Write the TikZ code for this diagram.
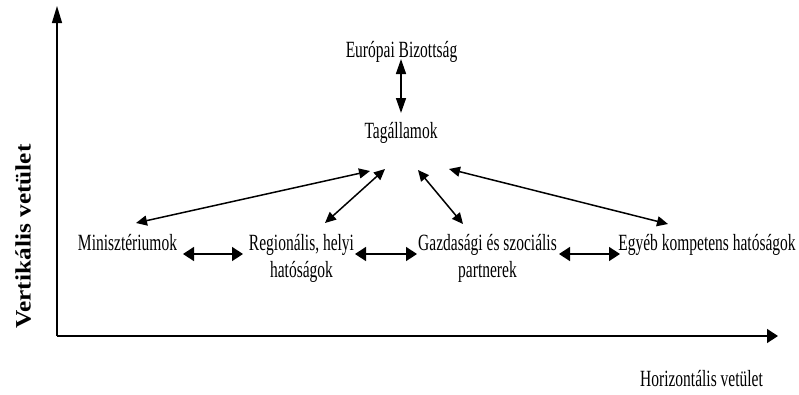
\documentclass[tikz,border=0pt]{standalone}
\usepackage{fontspec}
\setmainfont{Liberation Serif}
\usetikzlibrary{arrows.meta}
\newcommand{\vstretch}[1]{\scalebox{1}[1.5]{#1}}
\tikzset{
  lbl/.style={inner sep=0pt, anchor=base, font=\fontsize{15.5}{18}\selectfont},
  rel/.style={line width=1.5pt, {Triangle[length=11pt,width=10pt]}-{Triangle[length=11pt,width=10pt]}},
  relh/.style={line width=1.5pt, {Triangle[length=11pt,width=14pt]}-{Triangle[length=11pt,width=14pt]}},
  relv/.style={line width=1.5pt, {Triangle[length=15pt,width=10pt]}-{Triangle[length=15pt,width=10pt]}},
  axis/.style={line width=1.3pt}
}
\begin{document}
\begin{tikzpicture}[x=1pt,y=-1pt]
\useasboundingbox (0,0) rectangle (799,394);
% axes
\coordinate (O) at (57,336);
\coordinate (Ytip) at (57,6);
\coordinate (Xtip) at (778,336);
\draw[axis,-{Triangle[length=17pt,width=10pt]}] (O) -- (Ytip);
\draw[axis,-{Triangle[length=11pt,width=14pt]}] (O) -- (Xtip);
% labels
\node[lbl] (eb) at (401.5,57.5) {\vstretch{Európai Bizottság}};
\node[lbl] (tag) at (401,138) {\vstretch{Tagállamok}};
\node[lbl] (min) at (127.5,250) {\vstretch{Minisztériumok}};
\node[lbl] (reg) at (301.5,250) {\vstretch{\begin{tabular}[t]{@{}c@{}}Regionális, helyi\\hatóságok\end{tabular}}};
\node[lbl] (gaz) at (487.5,250) {\vstretch{\begin{tabular}[t]{@{}c@{}}Gazdasági és szociális\\partnerek\end{tabular}}};
\node[lbl] (egy) at (707,250) {\vstretch{Egyéb kompetens hatóságok}};
\node[lbl] (hor) at (701.5,386) {\vstretch{Horizontális vetület}};
\node[inner sep=0pt, anchor=base, rotate=90, font=\fontsize{22}{24}\selectfont\bfseries] (ver) at (30.5,236.5) {\scalebox{1.15}[1]{Vertikális vetület}};
% connector end points
\coordinate (ebS) at (401,59);
\coordinate (tagN) at (401,113);
\coordinate (tagA) at (370,171);
\coordinate (tagB) at (385,169);
\coordinate (tagC) at (418,170);
\coordinate (tagD) at (449,169);
\coordinate (minN) at (136,223);
\coordinate (regN) at (325,223);
\coordinate (gazN) at (463,224);
\coordinate (egyN) at (668,224);
\coordinate (minE) at (183,254);
\coordinate (regW) at (243,254);
\coordinate (regE) at (355,254);
\coordinate (gazW) at (417,254);
\coordinate (gazE) at (559,254);
\coordinate (egyW) at (620,254);
% connectors
\draw[relv] (ebS) -- (tagN);
\draw[rel] (minN) -- (tagA);
\draw[rel] (regN) -- (tagB);
\draw[rel] (gazN) -- (tagC);
\draw[rel] (egyN) -- (tagD);
\draw[relh] (minE) -- (regW);
\draw[relh] (regE) -- (gazW);
\draw[relh] (gazE) -- (egyW);
\end{tikzpicture}
\end{document}
